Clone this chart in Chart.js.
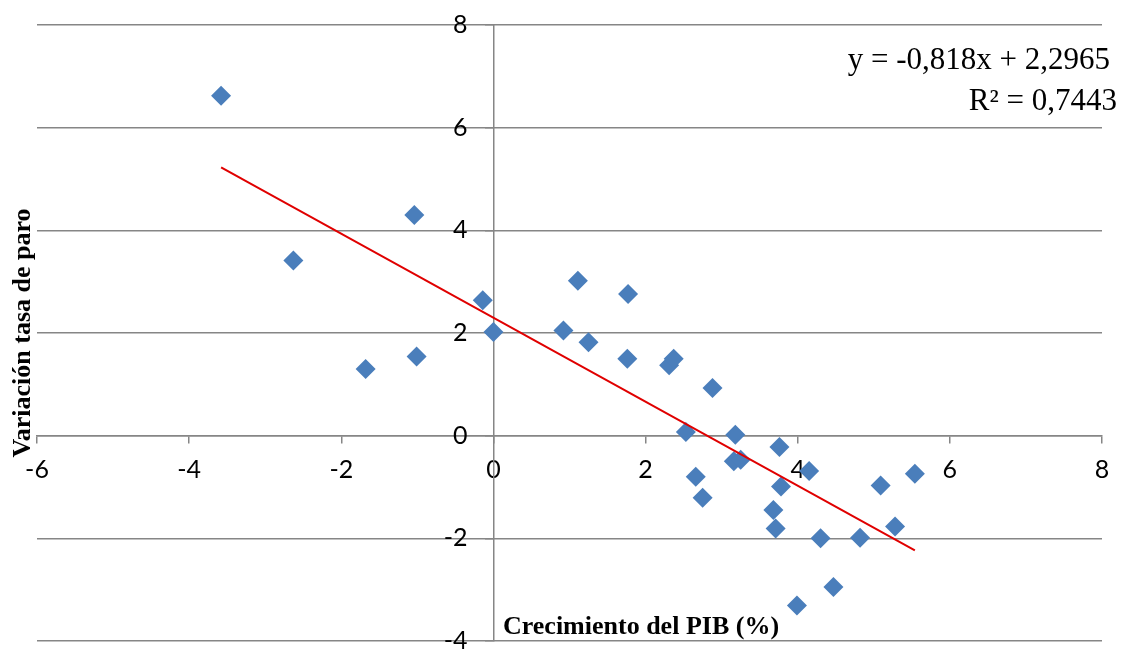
<!DOCTYPE html>
<html lang="es">
<head>
<meta charset="utf-8">
<title>Crecimiento del PIB y variación de la tasa de paro</title>
<script src="https://cdn.jsdelivr.net/npm/chart.js@4.4.1/dist/chart.umd.min.js"></script>
<style>
  html, body { margin: 0; padding: 0; background: #ffffff; }
  #wrap { width: 1129px; height: 652px; position: relative; }
</style>
</head>
<body>
<div id="wrap"><canvas id="chart" width="1129" height="652"></canvas></div>
<script>
// Crecimiento del PIB (%) por año
const gdpGrowth = [
  -3.58, -2.63, -1.04, -1.68, -1.01, -0.14, 0.00, 0.92, 1.11, 1.25, 1.77,
  1.76, 2.31, 2.37, 2.88, 2.53, 2.66, 2.75, 3.18, 3.16, 3.25, 3.76,
  3.78, 4.15, 3.68, 3.71, 4.30, 3.99, 4.47, 4.82, 5.09, 5.28, 5.54
];
// Variación de la tasa de paro (puntos) en el mismo año
const unemploymentChange = [
  6.62, 3.41, 4.30, 1.30, 1.54, 2.64, 2.02, 2.05, 3.02, 1.82, 2.76,
  1.50, 1.37, 1.50, 0.93, 0.07, -0.80, -1.21, 0.02, -0.50, -0.47, -0.22,
  -0.99, -0.69, -1.45, -1.81, -2.00, -3.31, -2.95, -1.99, -0.97, -1.77, -0.74
];

// Recta de regresión lineal y su ajuste
const trendSlope = -0.818;
const trendIntercept = 2.2965;
const equationLines = ['y = -0,818x + 2,2965', 'R² = 0,7443'];

// Ejes
const xTicks = [-6, -4, -2, 0, 2, 4, 6, 8];
const yTicks = [-4, -2, 0, 2, 4, 6, 8];
const xTitle = 'Crecimiento del PIB (%)';
const yTitle = 'Variación tasa de paro';

const points = gdpGrowth.map((x, i) => ({ x: x, y: unemploymentChange[i] }));
const xMinData = Math.min(...gdpGrowth);
const xMaxData = Math.max(...gdpGrowth);
const trendPoints = [xMinData, xMaxData].map(x => ({ x: x, y: trendSlope * x + trendIntercept }));

const GRID = '#868686';
const TICK_FONT_FAMILY = 'Lato, "Liberation Sans", sans-serif';
const TICK_FONT_SIZE = 25;
const tickFont = { family: TICK_FONT_FAMILY, size: TICK_FONT_SIZE };

// Los ejes cruzan en el origen y no ocupan espacio propio en la maqueta
function noSpace(scale) {
  if (scale.isHorizontal()) scale.height = 0; else scale.width = 0;
  scale.paddingLeft = 0; scale.paddingRight = 0;
  scale.paddingTop = 0; scale.paddingBottom = 0;
}

// Etiquetas del eje vertical, a la izquierda del eje que pasa por x = 0
const yAxisLabels = {
  id: 'yAxisLabels',
  beforeDatasetsDraw(chart) {
    const ctx = chart.ctx;
    const xs = chart.scales.x;
    const ys = chart.scales.y;
    const axisX = xs.getPixelForValue(0);
    const labelRight = axisX - 8 - 18;
    ctx.save();
    ctx.fillStyle = '#000';
    ctx.font = TICK_FONT_SIZE + 'px ' + TICK_FONT_FAMILY;
    ctx.textAlign = 'right';
    ctx.textBaseline = 'middle';
    yTicks.forEach(v => ctx.fillText(String(v), labelRight, ys.getPixelForValue(v)));
    ctx.restore();
  }
};

// Títulos de ejes y ecuación de la recta
const annotations = {
  id: 'annotations',
  afterDraw(chart) {
    const ctx = chart.ctx;
    ctx.save();
    ctx.fillStyle = '#000';

    ctx.font = 'bold 26px "Liberation Serif", "Times New Roman", serif';
    ctx.textAlign = 'center';
    ctx.textBaseline = 'alphabetic';
    ctx.fillText(xTitle, 641, 634);

    ctx.save();
    ctx.translate(30, 333);
    ctx.rotate(-Math.PI / 2);
    ctx.fillText(yTitle, 0, 0);
    ctx.restore();

    ctx.font = '31px "Liberation Serif", "Times New Roman", serif';
    ctx.textAlign = 'right';
    ctx.fillText(equationLines[0], 1110, 69);
    ctx.fillText(equationLines[1], 1117, 110);
    ctx.restore();
  }
};

new Chart(document.getElementById('chart'), {
  type: 'scatter',
  data: {
    datasets: [
      {
        type: 'line',
        label: 'Lineal',
        data: trendPoints,
        borderColor: '#e00000',
        borderWidth: 2,
        pointRadius: 0,
        fill: false,
        tension: 0,
        order: 0
      },
      {
        label: 'Variación tasa de paro',
        data: points,
        pointStyle: 'rectRot',
        pointRadius: 10,
        pointHoverRadius: 10,
        backgroundColor: '#4a7ebb',
        borderColor: '#4a7ebb',
        borderWidth: 0,
        order: 1
      }
    ]
  },
  options: {
    responsive: false,
    animation: false,
    layout: { padding: { left: 37, right: 27, top: 25, bottom: 11 } },
    plugins: {
      legend: { display: false },
      tooltip: { enabled: false }
    },
    scales: {
      x: {
        type: 'linear',
        min: xTicks[0],
        max: xTicks[xTicks.length - 1],
        position: { y: 0 },
        afterBuildTicks(scale) { scale.ticks = xTicks.map(v => ({ value: v })); },
        afterFit: noSpace,
        ticks: { font: tickFont, color: '#000', padding: 12, autoSkip: false, maxRotation: 0 },
        grid: { drawOnChartArea: false, drawTicks: true, tickLength: 7, color: GRID, lineWidth: 1.5 },
        border: { display: true, color: GRID, width: 1.5 }
      },
      y: {
        type: 'linear',
        min: yTicks[0],
        max: yTicks[yTicks.length - 1],
        position: { x: 0 },
        afterBuildTicks(scale) { scale.ticks = yTicks.map(v => ({ value: v })); },
        afterFit: noSpace,
        ticks: { display: false },
        grid: { drawOnChartArea: true, drawTicks: true, tickLength: 8, color: GRID, lineWidth: 1.5 },
        border: { display: true, color: GRID, width: 1.5 }
      }
    }
  },
  plugins: [yAxisLabels, annotations]
});
</script>
</body>
</html>
